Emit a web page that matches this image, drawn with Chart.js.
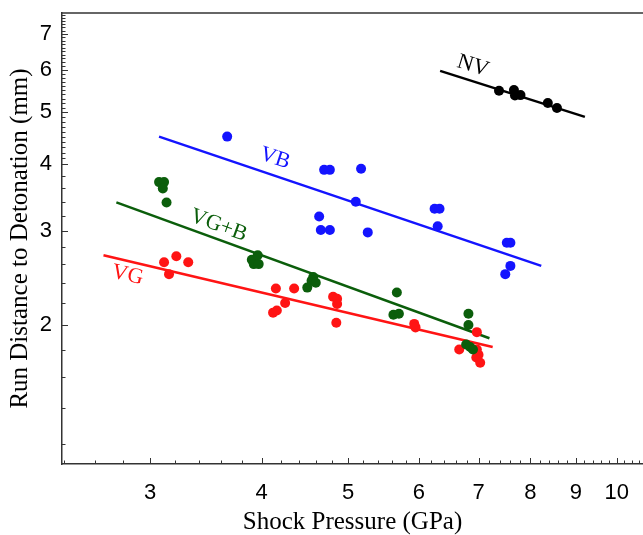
<!DOCTYPE html>
<html>
<head>
<meta charset="utf-8">
<script src="https://cdn.jsdelivr.net/npm/chart.js@4"></script>
<style>
  html, body { margin: 0; padding: 0; background: #fff; }
</style>
</head>
<body>
<canvas id="runChart" width="643" height="535"></canvas>
<script>
// tick labels
const xTicks = [3, 4, 5, 6, 7, 8, 9, 10];
const yTicks = [2, 3, 4, 5, 6, 7];

// NV
const nvPressure = [7.38, 7.67, 7.69, 7.80, 8.37, 8.57];
const nvRun      = [5.48, 5.50, 5.37, 5.38, 5.20, 5.09];
const nvFitPressure = [6.34, 9.21];
const nvFitRun      = [5.97, 4.90];

// VB
const vbPressure = [3.66, 4.70, 4.77, 5.17, 5.10, 4.64, 4.66, 4.77, 5.26, 6.25, 6.33, 6.30, 7.53, 7.60, 7.60, 7.50];
const vbRun      = [4.50, 3.90, 3.90, 3.92, 3.40, 3.19, 3.01, 3.01, 2.98, 3.30, 3.30, 3.06, 2.85, 2.85, 2.58, 2.49];
const vbFitPressure = [3.07, 8.23];
const vbFitRun      = [4.50, 2.58];

// VG+B
const vgbPressure = [3.07, 3.11, 3.10, 3.13, 3.90, 3.96, 3.92, 3.97, 4.57, 4.55, 4.60, 4.50, 5.67, 5.62, 5.70, 6.82, 6.82, 6.78, 6.85, 6.90];
const vgbRun      = [3.70, 3.70, 3.60, 3.39, 2.65, 2.70, 2.60, 2.60, 2.46, 2.42, 2.40, 2.35, 2.30, 2.09, 2.10, 2.10, 2.00, 1.84, 1.82, 1.80];
const vgbFitPressure = [2.75, 7.20];
const vgbFitRun      = [3.39, 1.89];

// VG
const vgPressure = [3.11, 3.21, 3.31, 3.15, 4.15, 4.35, 4.25, 4.12, 4.16, 4.81, 4.86, 4.86, 4.85, 5.93, 5.95, 6.97, 6.66, 6.97, 7.00, 6.96, 7.03];
const vgRun      = [2.62, 2.69, 2.62, 2.49, 2.34, 2.34, 2.20, 2.11, 2.13, 2.26, 2.24, 2.19, 2.02, 2.01, 1.98, 1.94, 1.80, 1.80, 1.76, 1.74, 1.70];
const vgFitPressure = [2.66, 7.26];
const vgFitRun      = [2.70, 1.82];

const seriesNames = ['NV', 'VB', 'VG+B', 'VG'];

const BLACK = '#000000';
const BLUE = '#1414ff';
const GREEN = '#0b5e0b';
const RED = '#ff1414';

function pts(xs, ys) {
    return xs.map((x, i) => ({ x: x, y: ys[i] }));
}

function pointSet(label, xs, ys, color) {
    return {
        label: label,
        data: pts(xs, ys),
        backgroundColor: color,
        borderWidth: 0,
        pointRadius: 5,
        showLine: false,
        order: 0
    };
}

function fitSet(label, xs, ys, color) {
    return {
        label: label + ' fit',
        data: pts(xs, ys),
        borderColor: color,
        borderWidth: 2.5,
        pointRadius: 0,
        showLine: true,
        order: 1
    };
}

// name labels along the fit lines (data coords + angle)
const nameTags = [
    { text: seriesNames[0], x: 6.90, y: 6.10, angle: 17, color: BLACK },
    { text: seriesNames[1], x: 4.14, y: 4.10, angle: 18, color: BLUE },
    { text: seriesNames[2], x: 3.58, y: 3.07, angle: 20, color: GREEN },
    { text: seriesNames[3], x: 2.83, y: 2.48, angle: 13, color: RED }
];

const tagPlugin = {
    id: 'tags',
    afterDatasetsDraw(chart) {
        const ctx = chart.ctx;
        const xs = chart.scales.x, ys = chart.scales.y;
        ctx.save();
        ctx.font = '22px "Liberation Serif", "Times New Roman", serif';
        ctx.textAlign = 'center';
        ctx.textBaseline = 'middle';
        nameTags.forEach(t => {
            ctx.save();
            ctx.translate(xs.getPixelForValue(t.x), ys.getPixelForValue(t.y));
            ctx.rotate(t.angle * Math.PI / 180);
            ctx.fillStyle = t.color;
            ctx.fillText(t.text, 0, 0);
            ctx.restore();
        });
        ctx.restore();
    }
};

// inward ticks + top frame line
const framePlugin = {
    id: 'frame',
    afterDraw(chart) {
        const ctx = chart.ctx;
        const a = chart.chartArea;
        const xs = chart.scales.x, ys = chart.scales.y;
        ctx.save();
        ctx.strokeStyle = '#333';
        ctx.lineWidth = 1.5;
        ctx.beginPath();
        ctx.moveTo(a.left, a.top);
        ctx.lineTo(a.right, a.top);
        ctx.stroke();

        ctx.lineWidth = 1;
        ctx.beginPath();
        for (let i = 12; i <= 53; i++) {
            const v = i / 5;
            const px = Math.round(xs.getPixelForValue(v)) + 0.5;
            const len = (i % 5 === 0) ? 6 : 3.5;
            ctx.moveTo(px, a.bottom);
            ctx.lineTo(px, a.bottom - len);
        }
        for (let i = 6; i < 20; i++) {
            const v = i / 5;
            const py = Math.round(ys.getPixelForValue(v)) + 0.5;
            const len = (i % 5 === 0) ? 6 : 3.5;
            ctx.moveTo(a.left, py);
            ctx.lineTo(a.left + len, py);
        }
        for (let i = 40; i <= 76; i++) {
            const v = i / 10;
            const py = Math.round(ys.getPixelForValue(v)) + 0.5;
            const len = (i % 10 === 0) ? 6 : 3.5;
            ctx.moveTo(a.left, py);
            ctx.lineTo(a.left + len, py);
        }
        ctx.stroke();
        ctx.restore();
    }
};

const ctx = document.getElementById('runChart').getContext('2d');
new Chart(ctx, {
    type: 'scatter',
    data: {
        datasets: [
            pointSet('NV', nvPressure, nvRun, BLACK),
            pointSet('VB', vbPressure, vbRun, BLUE),
            pointSet('VG+B', vgbPressure, vgbRun, GREEN),
            pointSet('VG', vgPressure, vgRun, RED),
            fitSet('NV', nvFitPressure, nvFitRun, BLACK),
            fitSet('VB', vbFitPressure, vbFitRun, BLUE),
            fitSet('VG+B', vgbFitPressure, vgbFitRun, GREEN),
            fitSet('VG', vgFitPressure, vgFitRun, RED)
        ]
    },
    options: {
        responsive: false,
        animation: false,
        layout: { autoPadding: false, padding: { top: 13, right: 0, left: 0, bottom: 0 } },
        plugins: {
            legend: { display: false },
            tooltip: { enabled: false }
        },
        scales: {
            x: {
                type: 'logarithmic',
                min: 2.39,
                max: 10.7,
                afterBuildTicks: s => { s.ticks = xTicks.map(v => ({ value: v })); },
                afterFit: s => {
                    s.height = 71;
                    s.paddingLeft = 0;
                    s.paddingRight = 0;
                },
                grid: { display: false, drawTicks: false },
                border: { display: true, color: '#333', width: 1.5 },
                ticks: {
                    autoSkip: false,
                    maxRotation: 0,
                    padding: 16,
                    color: '#000',
                    font: { family: '"Liberation Sans", Arial, sans-serif', size: 22 },
                    callback: v => String(v)
                },
                title: {
                    display: true,
                    text: 'Shock Pressure (GPa)',
                    color: '#000',
                    padding: { top: 0, bottom: 0 },
                    font: { family: '"Liberation Serif", "Times New Roman", serif', size: 25, lineHeight: 1 }
                }
            },
            y: {
                type: 'logarithmic',
                min: 1.1,
                max: 7.66,
                afterBuildTicks: s => { s.ticks = yTicks.map(v => ({ value: v })); },
                afterFit: s => {
                    s.width = 62;
                    s.paddingTop = 0;
                    s.paddingBottom = 0;
                },
                grid: { display: false, drawTicks: false },
                border: { display: true, color: '#333', width: 1.5 },
                ticks: {
                    autoSkip: false,
                    padding: 10,
                    color: '#000',
                    font: { family: '"Liberation Sans", Arial, sans-serif', size: 22 },
                    callback: v => String(v)
                },
                title: {
                    display: true,
                    text: 'Run Distance to Detonation (mm)',
                    color: '#000',
                    padding: { top: 8, bottom: 0 },
                    font: { family: '"Liberation Serif", "Times New Roman", serif', size: 25, lineHeight: 1 }
                }
            }
        }
    },
    plugins: [tagPlugin, framePlugin]
});
</script>
</body>
</html>
